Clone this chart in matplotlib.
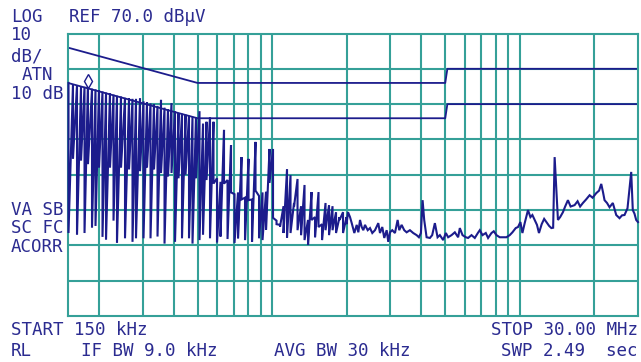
import matplotlib
matplotlib.use("Agg")
import matplotlib.pyplot as plt
from matplotlib.transforms import offset_copy

# spectrum analyzer screen: conducted emission scan 150 kHz .. 30 MHz
# comb part (switching harmonics): frequency, peak level, floor level
comb_mhz = [0.1507, 0.1571, 0.1631, 0.1693, 0.1749, 0.1806, 0.1875, 0.1937, 0.2001, 0.2067,
            0.2136, 0.2216, 0.2290, 0.2365, 0.2455, 0.2548, 0.2645, 0.2732, 0.2822, 0.2929,
            0.3026, 0.3126, 0.3230, 0.3336, 0.3447, 0.3561, 0.3679, 0.3800, 0.3926, 0.4056,
            0.4190, 0.4328, 0.4472, 0.4619, 0.4772, 0.4930, 0.5093, 0.5262, 0.5436, 0.5615,
            0.5801, 0.5993, 0.6191, 0.6396, 0.6608, 0.6826, 0.7052, 0.7285, 0.7526, 0.7775,
            0.8032, 0.8298, 0.8572, 0.8856, 0.9149, 0.9451, 0.9764, 1.0087, 1.0420, 1.0765,
            1.1121, 1.1489, 1.1869, 1.2261, 1.2667, 1.3086, 1.3519, 1.3966, 1.4428, 1.4905,
            1.5398, 1.5907, 1.6433, 1.6977, 1.7538, 1.8118, 1.8717, 1.9336, 1.9976]
comb_peak = [56.0, 55.7, 55.4, 55.1, 54.9, 55.4, 54.4, 54.2, 53.9, 53.6,
             53.3, 53.0, 52.7, 52.4, 52.1, 51.8, 51.6, 51.5, 51.5, 51.7,
             50.8, 50.5, 50.2, 49.9, 49.5, 51.2, 49.0, 48.6, 50.3, 48.0,
             47.5, 47.3, 47.0, 46.7, 46.4, 46.2, 48.0, 44.5, 45.0, 46.3,
             45.0, 29.0, 28.0, 42.7, 28.5, 38.4, 24.5, 25.0, 35.0, 23.5,
             34.5, 23.0, 39.3, 24.0, 25.0, 25.2, 37.3, 37.3, 17.0, 15.8,
             21.1, 31.6, 29.9, 22.0, 28.8, 21.1, 27.1, 17.2, 25.1, 18.0,
             25.1, 16.0, 22.0, 21.4, 21.1, 19.4, 18.0, 19.4, 18.0]
comb_floor = [13.5, 34.5, 13.0, 34.0, 13.5, 33.0, 15.0, 15.5, 32.0, 12.4,
              11.6, 32.0, 17.0, 10.7, 32.0, 12.0, 31.5, 11.0, 12.0, 31.0,
              12.0, 32.0, 12.0, 31.5, 12.5, 30.5, 10.5, 29.5, 30.5, 11.0,
              29.0, 12.0, 30.0, 12.0, 10.5, 29.0, 11.5, 13.0, 28.5, 12.0,
              27.5, 10.8, 12.5, 27.5, 11.8, 25.0, 10.7, 12.0, 23.0, 11.5,
              22.8, 11.0, 25.5, 12.0, 11.5, 14.4, 27.7, 17.8, 16.0, 15.3,
              13.5, 12.1, 13.5, 21.0, 14.3, 12.9, 11.5, 10.1, 17.2, 12.3,
              15.2, 11.5, 14.3, 12.9, 14.3, 13.5, 17.2, 13.5, 16.0]

# noise floor part of the trace above 2 MHz
noise_mhz = [2.0256, 2.0636, 2.0964, 2.1477, 2.1959, 2.2290, 2.2643, 2.3003, 2.3347, 2.3718,
             2.4320, 2.4844, 2.5380, 2.6024, 2.6834, 2.7260, 2.7848, 2.8369, 2.9008, 2.9442,
             2.9910, 3.0555, 3.1330, 3.2123, 3.2606, 3.3338, 3.4155, 3.4924, 3.6009, 3.7129,
             3.8318, 3.9143, 3.9878, 4.0509, 4.1119, 4.2043, 4.3350, 4.4286, 4.5408, 4.6560,
             4.7564, 4.9043, 5.0287, 5.1372, 5.3019, 5.4666, 5.6365, 5.7261, 5.8715, 6.0540,
             6.1843, 6.3826, 6.5808, 6.7701, 6.8936, 7.0684, 7.2881, 7.4460, 7.6841, 7.8497,
             8.0487, 8.2990, 8.5566, 8.8309, 9.1055, 9.3367, 9.6267, 9.8346, 10.056, 10.245,
             10.465, 10.790, 11.037, 11.240, 11.482, 11.730, 11.949, 12.253, 12.540, 12.799,
             13.136, 13.410, 13.632, 13.823, 14.043, 14.254, 14.548, 14.930, 15.240, 15.640,
             16.036, 16.642, 17.110, 17.520, 17.974, 18.516, 19.130, 19.667, 20.353, 20.888,
             21.318, 21.679, 21.981, 22.498, 23.026, 23.742, 24.502, 25.264, 25.857, 26.463,
             27.210, 27.719, 28.165, 28.581, 29.030, 29.500, 29.990]
noise_dbuv = [19.4, 18.0, 16.3, 13.5, 15.8, 13.7, 17.2, 15.2, 14.3, 15.8,
              14.3, 14.9, 13.5, 14.3, 16.3, 13.5, 15.2, 12.1, 14.3, 11.0,
              13.7, 14.3, 13.5, 17.2, 14.3, 15.8, 14.3, 13.7, 14.3, 13.5,
              12.9, 12.3, 13.5, 22.8, 17.2, 12.3, 12.1, 12.9, 16.3, 12.3,
              12.9, 11.5, 13.5, 12.3, 12.9, 13.7, 12.3, 14.9, 12.9, 12.3,
              12.1, 12.9, 12.1, 13.5, 14.3, 12.9, 13.5, 12.1, 13.5, 14.0,
              12.9, 12.3, 12.3, 12.3, 12.9, 13.7, 14.9, 15.2, 16.6, 13.5,
              16.3, 20.0, 18.0, 18.6, 17.2, 15.8, 13.5, 16.0, 17.5, 16.6,
              15.5, 14.9, 15.0, 35.0, 25.7, 17.2, 18.0, 19.4, 21.0, 22.8,
              21.0, 21.4, 22.5, 21.0, 22.0, 23.0, 24.2, 23.5, 24.8, 25.5,
              27.4, 25.0, 22.8, 22.0, 20.8, 22.0, 18.6, 17.7, 18.5, 18.6,
              20.5, 26.2, 30.8, 20.0, 19.0, 17.2, 16.6]

# limit lines (quasi-peak and average)
limit_mhz = [0.15, 0.5, 5.0, 5.1, 30.0]
qp_limit = [66, 56, 56, 60, 60]
avg_limit = [56, 46, 46, 50, 50]

marker_mhz = 0.1806
marker_dbuv = 55.4

grid_mhz = [0.2, 0.3, 0.4, 0.5, 0.6, 0.7, 0.8, 0.9, 1, 2, 3, 4, 5, 6, 7, 8, 9, 10, 20]
grid_dbuv = [0, 10, 20, 30, 40, 50, 60]

teal = "#35a098"
navy = "#1c1c8c"
txt = "#2b2b90"

W, H = 641, 362
fig = plt.figure(figsize=(W / 100, H / 100), dpi=100)
fig.patch.set_facecolor("white")
ax = fig.add_axes([68 / W, (H - 316) / H, 570 / W, 282.5 / H])
ax.set_xscale("log")
ax.set_xlim(0.15, 30)
ax.set_ylim(-10, 70)
for v in grid_mhz:
    ax.axvline(v, color=teal, lw=1.5, zorder=1)
for v in grid_dbuv:
    ax.axhline(v, color=teal, lw=1.5, zorder=1)
for s in ax.spines.values():
    s.set_color(teal)
    s.set_linewidth(1.5)
ax.set_xticks([])
ax.set_yticks([])
ax.minorticks_off()

trace_x, trace_y = [], []
for f, p, fl in zip(comb_mhz, comb_peak, comb_floor):
    trace_x += [f, f]
    trace_y += [p, fl]
trace_x += noise_mhz
trace_y += noise_dbuv
ax.plot(trace_x, trace_y, color=navy, lw=1.5, zorder=3, clip_on=False,
        solid_joinstyle="miter")

ax.plot(limit_mhz, qp_limit, color=navy, lw=1.3, zorder=2)
ax.plot(limit_mhz, avg_limit, color=navy, lw=1.3, zorder=2)

mt = offset_copy(ax.transData, fig=fig, y=4.5, units="dots")
ax.plot([marker_mhz], [marker_dbuv], marker="d", ms=7, mfc="white", mec=navy,
        mew=1.0, transform=mt, zorder=4)

font = dict(family="DejaVu Sans Mono", fontsize=12.6, color=txt, va="baseline")


def label(x, y, s):
    fig.text(x / W, 1 - y / H, s, **font)


label(11, 21.7, "LOG")
label(69, 21.7, "REF 70.0 dBµV")
label(11, 40, "10")
label(11, 61.7, "dB/")
label(22, 80, "ATN")
label(11, 99, "10 dB")
label(11, 215, "VA SB")
label(11, 233.3, "SC FC")
label(11, 251.7, "ACORR")
label(11, 335, "START 150 kHz")
label(491, 335, "STOP 30.00 MHz")
label(11, 355.5, "RL")
label(81, 355.5, "IF BW 9.0 kHz")
label(274, 355.5, "AVG BW 30 kHz")
label(501, 355.5, "SWP 2.49  sec")

fig.savefig("out.png", dpi=100, facecolor="white")
